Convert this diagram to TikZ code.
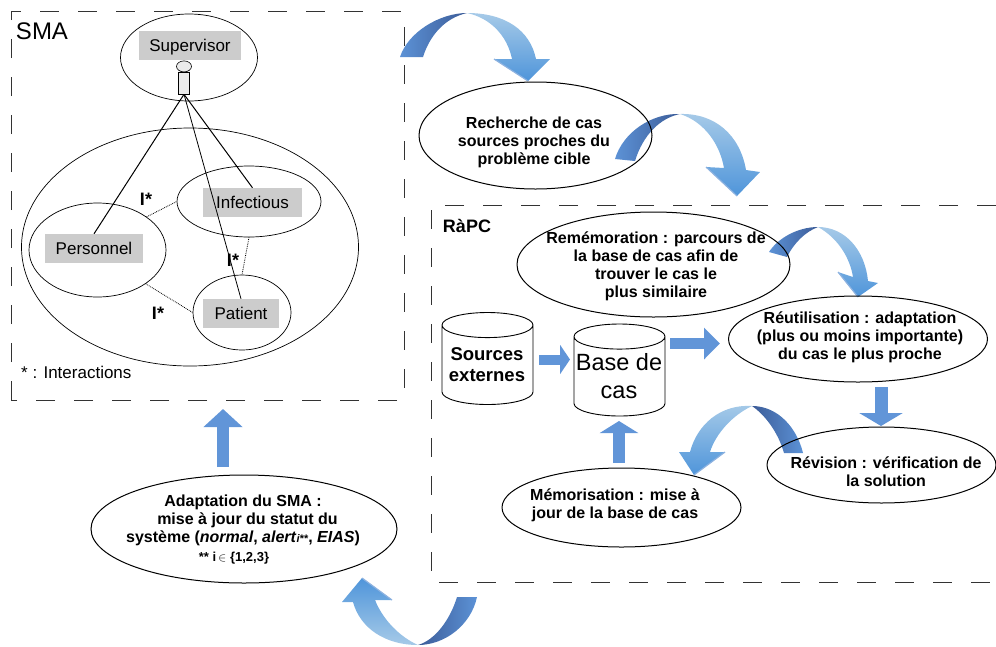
\documentclass[tikz,border=0pt]{standalone}
\usepackage{fontspec}
\setmainfont{Liberation Sans}
\usetikzlibrary{
  shapes.geometric,
  arrows.meta,
  positioning,
}
\definecolor{flowblue}{HTML}{6195D8}
\definecolor{bendfootblue}{HTML}{5C92D6}
\definecolor{benddark}{HTML}{3C5C98}
\definecolor{bendlight}{HTML}{A6CAE8}
\definecolor{bendend}{HTML}{4F95DA}
\definecolor{bendedge}{HTML}{8DB2E0}
\tikzset{
  frame/.style={
    line width=1pt,
    draw=black!80,
    dash pattern=on 19pt off 19pt,
  },
  agent/.style={
    ellipse,
    draw=black,
    line width=0.7pt,
    inner sep=0pt,
  },
  phase/.style={
    ellipse,
    draw=black,
    line width=1pt,
    inner sep=0pt,
  },
  agentname/.style={
    rectangle,
    fill=black!20,
    inner sep=0pt,
    text centered,
    text height=12pt,
    text depth=0pt,
    font=\fontsize{17}{20}\selectfont,
  },
  phasetext/.style={
    align=center,
    inner sep=0pt,
    font=\fontsize{16}{18}\selectfont\bfseries,
  },
  store/.style={
    cylinder,
    shape border rotate=90,
    aspect=0.33,
    anchor=shape center,
    draw=black,
    line width=0.9pt,
    inner sep=0pt,
    minimum width=91pt,
    minimum height=92pt,
    text width=76pt,
    text height=30pt,
    text depth=0pt,
  },
  flow/.style={
    draw=flowblue,
    line width=12pt,
    -{Triangle[width=38pt,length=18pt,fill=flowblue]},
  },
  interact/.style={
    densely dotted,
    line width=0.8pt,
  },
  role/.style={
    line width=1pt,
  },
  inter/.style={
    inner sep=0pt,
    font=\fontsize{18}{20}\selectfont\bfseries,
  },
  bendfoot/.style={left color=bendfootblue, right color=benddark},
  bendback/.style={left color=benddark, right color=bendfootblue},
  bendhead/.style={top color=bendlight, bottom color=bendend},
  bendup/.style={top color=bendend, bottom color=bendlight},
  bendrim/.style={draw=bendedge, line width=1.2pt},
}

\begin{document}
\begin{tikzpicture}[x=1pt,y=-1pt]

  \useasboundingbox (0,0) rectangle (996,646);

  % frames
  \draw[frame] (11,400) -- (11,11) -- (404,11) -- (404,400) -- cycle;
  \draw[frame] (996,205) -- (431,205) -- (431,582) -- (996,582);

  % bent arrows
  \shade[bendfoot] (400,57) .. controls (408,32) and (440,13) .. (467,13) .. controls (445,18) and (430,35) .. (423,57) -- cycle;
  \shade[bendhead] (467,13) .. controls (505,13) and (530,30) .. (536,59) -- (550,59) -- (528,81) -- (494,59) -- (512,59) .. controls (507,35) and (490,18) .. (467,13) -- cycle;
  \draw[bendrim] (494,59) -- (528,81);

  \shade[bendfoot] (615,159) .. controls (623,132) and (652,113) .. (680,114) .. controls (660,118) and (643,135) .. (635,161) -- cycle;
  \shade[bendhead] (680,114) .. controls (715,113) and (740,135) .. (746,170) -- (760,172) -- (737,196) -- (706,167) -- (724,168) .. controls (720,145) and (705,122) .. (680,114) -- cycle;
  \draw[bendrim] (706,167) -- (737,196);

  \shade[bendfoot] (769,252) .. controls (778,238) and (798,227) .. (818,227) .. controls (805,232) and (794,243) .. (787,257) -- cycle;
  \shade[bendhead] (818,227) .. controls (845,227) and (865,250) .. (868,281) -- (878,283) -- (858,297) -- (838,272) -- (853,277) .. controls (850,258) and (838,238) .. (818,227) -- cycle;
  \draw[bendrim] (838,272) -- (858,297);

  \shade[bendback] (803,453) .. controls (797,428) and (778,406) .. (752,406) .. controls (765,415) and (778,432) .. (784,453) -- cycle;
  \shade[bendhead] (752,406) .. controls (720,404) and (697,425) .. (690,452) -- (679,452) -- (694,475) -- (725,452) -- (710,452) .. controls (716,433) and (733,415) .. (752,406) -- cycle;
  \draw[bendrim] (694,475) -- (725,452);

  \shade[bendback] (477,597) .. controls (471,625) and (445,645) .. (418,645) .. controls (435,640) and (450,620) .. (457,597) -- cycle;
  \shade[bendup] (418,645) .. controls (385,645) and (360,628) .. (353,602) -- (342,602) -- (362,578) -- (392,600) -- (375,600) .. controls (383,620) and (400,637) .. (418,645) -- cycle;
  \draw[bendrim] (362,578) -- (392,600);

  % SMA
  \node[inner sep=0pt, font=\fontsize{24}{26}\selectfont] (smatitle) at (42,31) {SMA};

  \node[agent, minimum width=137pt, minimum height=87pt] (supervisor) at (189,57.5) {};
  \node[agent, minimum width=337pt, minimum height=238pt] (society) at (190,247) {};
  \node[agent, minimum width=144pt, minimum height=71pt] (infectious) at (249,201.5) {};
  \node[agent, minimum width=137pt, minimum height=94pt] (personnel) at (97.5,250) {};
  \node[agent, minimum width=98pt, minimum height=75pt] (patient) at (242,312.5) {};

  \node[agentname, minimum width=102pt, minimum height=29pt] (supervisorname) at (190,45.5) {Supervisor};
  \node[agentname, minimum width=99pt, minimum height=29pt] (infectiousname) at (252.5,202.5) {Infectious};
  \node[agentname, minimum width=98pt, minimum height=29pt] (personnelname) at (94,248.5) {Personnel};
  \node[agentname, minimum width=76pt, minimum height=29pt] (patientname) at (241,313.5) {Patient};

  \node[draw=black, fill=black!8, line width=0.6pt, inner sep=0pt, minimum width=11pt, minimum height=22pt] (actorbody) at (184,83) {};
  \node[ellipse, draw=black, fill=black!8, line width=0.6pt, inner sep=0pt, minimum width=15pt, minimum height=11pt, above=-0.5pt of actorbody] (actorhead) {};

  \draw[role] (actorbody.south) -- (personnelname.north);
  \draw[role] (actorbody.south) -- (infectiousname.north);
  \draw[line width=0.8pt] (actorbody.south) -- (patientname.north);

  \draw[interact] (personnel.34) -- (infectious.west);
  \draw[interact] (personnel.-35) -- (patient.west);
  \draw[interact] (infectious.south) -- (patient.north);

  \node[inter] (intera) at (146,199) {I*};
  \node[inter] (interb) at (233,260) {I*};
  \node[inter] (interc) at (158,313) {I*};

  \node[inner sep=0pt, anchor=west, font=\fontsize{17}{20}\selectfont] (interactions) at (21,372) {* : Interactions};

  % phases
  \node[phase, minimum width=233pt, minimum height=107pt] (recherche) at (535.5,135.5) {};
  \node[phasetext] (recherchetext) at (534,142) {Recherche de cas\\sources proches du\\problème cible};

  \node[inner sep=0pt, font=\fontsize{18}{20}\selectfont\bfseries] (rapctitle) at (467,226) {RàPC};

  \node[phase, minimum width=273pt, minimum height=105pt] (rememoration) at (653.5,264.5) {};
  \node[phasetext] (rememorationtext) at (656,266) {Remémoration : parcours de\\la base de cas afin de\\trouver le cas le\\plus similaire};

  \node[phase, minimum width=259pt, minimum height=86pt] (reutilisation) at (858,339) {};
  \node[phasetext] (reutilisationtext) at (860,337.5) {Réutilisation : adaptation\\(plus ou moins importante)\\du cas le plus proche};

  \node[phase, minimum width=229pt, minimum height=76pt] (revision) at (881.5,465) {};
  \node[phasetext] (revisiontext) at (886,471.5) {Révision : vérification de\\la solution};

  \node[phase, minimum width=239pt, minimum height=79pt] (memorisation) at (621.5,507.5) {};
  \node[phasetext] (memorisationtext) at (615,505.5) {Mémorisation : mise à\\jour de la base de cas};

  \node[phase, minimum width=306pt, minimum height=108pt] (adaptation) at (244,529) {};
  \node[phasetext] (adaptationtext) at (243,530) {Adaptation du SMA :\\\hspace*{9pt}mise à jour du statut du\\système (\textit{normal}, \textit{alert}{\fontsize{11}{11}\selectfont\textit{i}**}, \textit{EIAS})\\[1pt]\hspace*{-18pt}{\fontsize{13}{14}\selectfont ** i\,$\in$ \{1,2,3\}}};

  % stores
  \node[store] (sources) at (487.5,358.5) {};
  \node[inner sep=0pt, align=center, font=\fontsize{18.5}{21}\selectfont\bfseries] (sourcestext) at (487,365) {Sources\\externes};
  \node[store] (base) at (619.5,370) {};
  \node[inner sep=0pt, align=center, font=\fontsize{23.5}{28}\selectfont] (basetext) at (619,376) {Base de\\cas};

  % straight arrows
  \coordinate (sourcesout) at (539,359.5);
  \coordinate (basein) at (570,359.5);
  \coordinate (baseout) at (670,343.5);
  \coordinate (reusein) at (720,343.5);
  \coordinate (reuseout) at (881,387);
  \coordinate (revisionin) at (881,426);
  \coordinate (memoryout) at (619,463);
  \coordinate (basebelow) at (619,421);
  \coordinate (adaptout) at (223,467);
  \coordinate (smabelow) at (223,409);

  \draw[flow, line width=10pt, -{Triangle[width=29pt,length=10pt,fill=flowblue]}] (sourcesout) -- (basein);
  \draw[flow, line width=11pt, -{Triangle[width=31pt,length=16pt,fill=flowblue]}] (baseout) -- (reusein);
  \draw[flow, line width=13pt, -{Triangle[width=43pt,length=13pt,fill=flowblue]}] (reuseout) -- (revisionin);
  \draw[flow, -{Triangle[width=38pt,length=12pt,fill=flowblue]}] (memoryout) -- (basebelow);
  \draw[flow] (adaptout) -- (smabelow);

\end{tikzpicture}
\end{document}
